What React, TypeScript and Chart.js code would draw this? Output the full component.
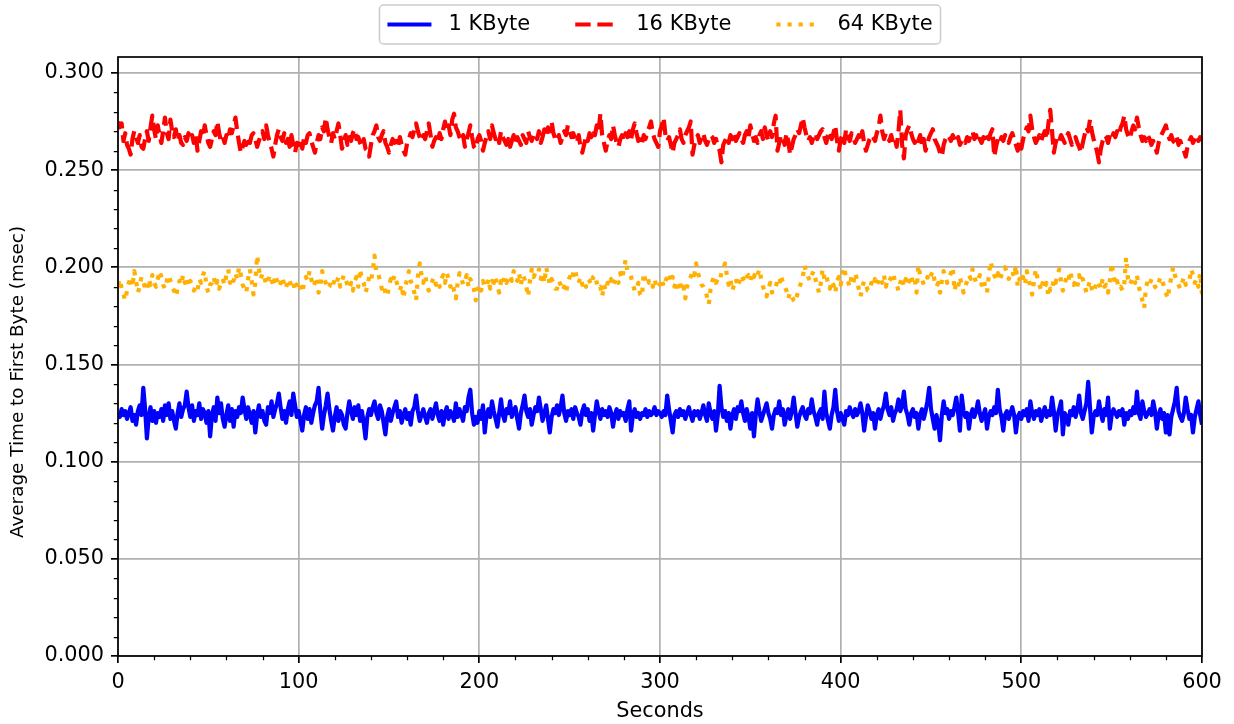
import { useEffect, useRef } from 'react';
import { Chart, registerables } from 'chart.js';

Chart.register(...registerables);

// Seconds since start of the run (one sample per second)
const SECONDS: number[] = Array.from({ length: 601 }, (_, i) => i);

// Average time to first byte (msec) for 1 KByte objects
const KB1: number[] = [
  0.125,0.123,0.127,0.124,0.126,0.122,0.125,0.128,0.121,0.124,
  0.119,0.126,0.129,0.124,0.138,0.127,0.112,0.123,0.128,0.121,
  0.126,0.120,0.125,0.123,0.127,0.121,0.129,0.124,0.130,0.122,
  0.126,0.121,0.117,0.125,0.130,0.123,0.127,0.129,0.136,0.128,
  0.123,0.129,0.121,0.126,0.124,0.130,0.122,0.127,0.125,0.120,
  0.126,0.113,0.124,0.128,0.121,0.133,0.125,0.130,0.122,0.118,
  0.124,0.129,0.121,0.127,0.118,0.126,0.123,0.128,0.125,0.133,
  0.127,0.122,0.128,0.124,0.120,0.126,0.115,0.124,0.129,0.123,
  0.126,0.121,0.119,0.128,0.125,0.131,0.123,0.127,0.130,0.135,
  0.128,0.122,0.126,0.120,0.127,0.131,0.124,0.135,0.129,0.123,
  0.126,0.121,0.116,0.124,0.128,0.122,0.127,0.120,0.125,0.129,
  0.131,0.138,0.126,0.117,0.124,0.129,0.135,0.127,0.121,0.116,
  0.123,0.128,0.121,0.126,0.124,0.119,0.117,0.125,0.131,0.126,
  0.122,0.128,0.124,0.129,0.121,0.126,0.120,0.112,0.123,0.127,
  0.124,0.128,0.131,0.125,0.122,0.129,0.126,0.120,0.114,0.123,
  0.127,0.121,0.125,0.128,0.131,0.123,0.126,0.120,0.124,0.127,
  0.122,0.125,0.119,0.126,0.128,0.134,0.126,0.121,0.124,0.127,
  0.123,0.120,0.125,0.127,0.122,0.126,0.130,0.124,0.121,0.126,
  0.119,0.125,0.128,0.122,0.126,0.124,0.121,0.130,0.123,0.127,
  0.124,0.121,0.128,0.126,0.133,0.137,0.125,0.119,0.123,0.120,
  0.126,0.122,0.129,0.115,0.124,0.127,0.123,0.131,0.126,0.122,
  0.118,0.125,0.132,0.124,0.121,0.127,0.125,0.131,0.123,0.126,
  0.128,0.122,0.117,0.125,0.129,0.134,0.126,0.123,0.127,0.119,
  0.124,0.128,0.126,0.133,0.127,0.121,0.125,0.129,0.122,0.115,
  0.123,0.127,0.125,0.129,0.124,0.128,0.134,0.125,0.121,0.126,
  0.124,0.127,0.122,0.128,0.125,0.123,0.119,0.126,0.129,0.124,
  0.127,0.121,0.125,0.116,0.124,0.131,0.126,0.122,0.127,0.124,
  0.126,0.123,0.128,0.125,0.118,0.124,0.127,0.122,0.126,0.124,
  0.125,0.121,0.127,0.131,0.116,0.124,0.127,0.123,0.125,0.122,
  0.125,0.124,0.127,0.123,0.126,0.124,0.125,0.128,0.124,0.126,
  0.125,0.123,0.126,0.124,0.134,0.127,0.121,0.115,0.124,0.126,
  0.123,0.127,0.124,0.126,0.122,0.125,0.128,0.124,0.121,0.126,
  0.124,0.126,0.122,0.125,0.129,0.124,0.121,0.130,0.125,0.122,
  0.126,0.116,0.124,0.139,0.128,0.123,0.126,0.121,0.125,0.117,
  0.124,0.127,0.122,0.128,0.126,0.131,0.125,0.121,0.127,0.123,
  0.117,0.125,0.113,0.124,0.132,0.126,0.121,0.124,0.127,0.130,
  0.125,0.122,0.117,0.124,0.127,0.125,0.131,0.124,0.127,0.119,
  0.124,0.127,0.122,0.126,0.133,0.125,0.118,0.123,0.126,0.128,
  0.124,0.122,0.127,0.125,0.132,0.126,0.123,0.119,0.125,0.127,
  0.122,0.136,0.125,0.121,0.117,0.124,0.128,0.137,0.126,0.121,
  0.125,0.122,0.119,0.126,0.124,0.128,0.125,0.123,0.127,0.124,
  0.126,0.130,0.125,0.116,0.123,0.129,0.126,0.122,0.125,0.117,
  0.124,0.127,0.122,0.126,0.129,0.135,0.127,0.124,0.128,0.121,
  0.125,0.127,0.132,0.126,0.129,0.136,0.127,0.124,0.119,0.125,
  0.127,0.123,0.125,0.117,0.124,0.127,0.122,0.126,0.131,0.138,
  0.127,0.122,0.117,0.124,0.120,0.111,0.124,0.131,0.125,0.127,
  0.122,0.126,0.124,0.128,0.133,0.125,0.116,0.134,0.126,0.123,
  0.125,0.117,0.124,0.127,0.123,0.126,0.131,0.125,0.121,0.124,
  0.127,0.117,0.123,0.126,0.124,0.128,0.125,0.137,0.127,0.123,
  0.116,0.124,0.126,0.122,0.125,0.128,0.124,0.115,0.123,0.125,
  0.122,0.126,0.124,0.127,0.121,0.131,0.125,0.122,0.126,0.124,
  0.127,0.121,0.125,0.128,0.123,0.126,0.124,0.133,0.126,0.116,
  0.124,0.127,0.131,0.114,0.125,0.123,0.119,0.126,0.124,0.128,
  0.123,0.127,0.134,0.125,0.122,0.126,0.130,0.141,0.128,0.115,
  0.123,0.126,0.124,0.131,0.125,0.121,0.127,0.124,0.133,0.117,
  0.124,0.127,0.125,0.123,0.126,0.124,0.127,0.119,0.125,0.122,
  0.126,0.124,0.128,0.125,0.136,0.125,0.122,0.131,0.126,0.123,
  0.125,0.127,0.124,0.131,0.126,0.117,0.124,0.127,0.122,0.125,
  0.115,0.124,0.114,0.123,0.127,0.131,0.138,0.126,0.123,0.121,
  0.125,0.133,0.127,0.122,0.124,0.115,0.123,0.127,0.131,0.124,
  0.119,
];

// Average time to first byte (msec) for 16 KByte objects
const KB16: number[] = [
  0.275,0.272,0.274,0.265,0.269,0.263,0.261,0.258,0.266,0.270,
  0.267,0.264,0.268,0.262,0.261,0.266,0.270,0.265,0.272,0.278,
  0.271,0.266,0.273,0.268,0.264,0.270,0.277,0.269,0.266,0.276,
  0.270,0.267,0.271,0.265,0.268,0.264,0.263,0.267,0.265,0.269,
  0.266,0.268,0.264,0.269,0.260,0.265,0.270,0.267,0.273,0.268,
  0.264,0.262,0.266,0.270,0.268,0.275,0.269,0.265,0.267,0.264,
  0.268,0.266,0.271,0.269,0.273,0.277,0.270,0.264,0.259,0.262,
  0.265,0.263,0.267,0.264,0.268,0.269,0.266,0.262,0.265,0.268,
  0.270,0.266,0.273,0.268,0.264,0.261,0.257,0.263,0.268,0.271,
  0.267,0.265,0.269,0.264,0.266,0.262,0.268,0.263,0.259,0.264,
  0.263,0.266,0.261,0.267,0.264,0.268,0.269,0.265,0.262,0.259,
  0.264,0.268,0.266,0.272,0.270,0.277,0.271,0.267,0.264,0.269,
  0.266,0.270,0.274,0.268,0.261,0.265,0.268,0.263,0.267,0.265,
  0.269,0.271,0.266,0.267,0.264,0.262,0.266,0.261,0.260,0.257,
  0.263,0.268,0.270,0.273,0.267,0.265,0.268,0.270,0.264,0.262,
  0.259,0.263,0.266,0.264,0.265,0.262,0.267,0.263,0.260,0.258,
  0.264,0.266,0.269,0.267,0.271,0.274,0.270,0.267,0.265,0.268,
  0.266,0.270,0.274,0.268,0.262,0.265,0.267,0.264,0.269,0.266,
  0.271,0.275,0.270,0.273,0.268,0.276,0.279,0.272,0.270,0.267,
  0.265,0.268,0.262,0.266,0.269,0.273,0.267,0.262,0.261,0.266,
  0.268,0.265,0.260,0.264,0.267,0.270,0.266,0.273,0.269,0.266,
  0.268,0.264,0.270,0.267,0.265,0.263,0.266,0.262,0.265,0.268,
  0.264,0.267,0.265,0.263,0.268,0.266,0.264,0.270,0.267,0.265,
  0.268,0.269,0.266,0.270,0.264,0.267,0.271,0.268,0.272,0.270,
  0.275,0.269,0.266,0.265,0.268,0.264,0.267,0.270,0.268,0.273,
  0.270,0.267,0.269,0.266,0.264,0.268,0.262,0.259,0.263,0.267,
  0.265,0.269,0.267,0.271,0.268,0.273,0.270,0.279,0.268,0.264,
  0.260,0.265,0.268,0.266,0.273,0.268,0.264,0.262,0.266,0.268,
  0.265,0.269,0.267,0.270,0.266,0.271,0.274,0.269,0.265,0.267,
  0.264,0.268,0.266,0.270,0.272,0.275,0.269,0.266,0.264,0.262,
  0.270,0.273,0.277,0.268,0.265,0.267,0.263,0.259,0.264,0.266,
  0.268,0.271,0.266,0.264,0.268,0.270,0.272,0.275,0.258,0.263,
  0.266,0.268,0.264,0.267,0.269,0.265,0.263,0.266,0.268,0.267,
  0.264,0.266,0.262,0.260,0.254,0.263,0.265,0.267,0.264,0.268,
  0.266,0.269,0.265,0.267,0.269,0.266,0.264,0.268,0.270,0.267,
  0.273,0.269,0.265,0.267,0.264,0.268,0.270,0.266,0.272,0.268,
  0.265,0.270,0.267,0.274,0.278,0.260,0.264,0.268,0.266,0.263,
  0.269,0.265,0.258,0.262,0.266,0.268,0.271,0.269,0.273,0.277,
  0.272,0.268,0.265,0.267,0.264,0.267,0.269,0.266,0.268,0.270,
  0.271,0.267,0.264,0.268,0.270,0.266,0.269,0.273,0.265,0.260,
  0.266,0.268,0.264,0.271,0.267,0.265,0.269,0.267,0.264,0.266,
  0.268,0.265,0.270,0.264,0.260,0.263,0.266,0.268,0.267,0.265,
  0.269,0.272,0.278,0.270,0.266,0.269,0.267,0.265,0.268,0.264,
  0.266,0.262,0.270,0.281,0.263,0.256,0.268,0.271,0.273,0.269,
  0.266,0.264,0.267,0.265,0.268,0.263,0.266,0.260,0.264,0.267,
  0.269,0.271,0.266,0.264,0.262,0.259,0.257,0.263,0.266,0.268,
  0.267,0.265,0.268,0.266,0.264,0.267,0.263,0.265,0.266,0.264,
  0.267,0.265,0.268,0.270,0.266,0.268,0.264,0.266,0.264,0.267,
  0.265,0.268,0.266,0.269,0.271,0.257,0.262,0.266,0.264,0.267,
  0.265,0.268,0.266,0.264,0.267,0.269,0.266,0.263,0.260,0.265,
  0.261,0.266,0.269,0.272,0.270,0.278,0.271,0.267,0.264,0.266,
  0.268,0.265,0.268,0.270,0.266,0.274,0.281,0.270,0.259,0.264,
  0.267,0.265,0.268,0.266,0.264,0.267,0.269,0.266,0.263,0.265,
  0.267,0.264,0.262,0.259,0.264,0.268,0.272,0.270,0.276,0.270,
  0.266,0.263,0.259,0.254,0.261,0.265,0.268,0.267,0.264,0.268,
  0.266,0.269,0.267,0.270,0.268,0.272,0.274,0.278,0.271,0.268,
  0.266,0.270,0.273,0.271,0.277,0.272,0.268,0.265,0.267,0.265,
  0.268,0.266,0.263,0.265,0.262,0.259,0.264,0.267,0.269,0.271,
  0.273,0.269,0.266,0.268,0.265,0.264,0.267,0.263,0.265,0.262,
  0.260,0.257,0.262,0.265,0.267,0.264,0.266,0.268,0.265,0.267,
  0.265,
];

// Average time to first byte (msec) for 64 KByte objects
const KB64: number[] = [
  0.191,0.194,0.189,0.186,0.183,0.188,0.192,0.195,0.190,0.198,
  0.193,0.187,0.190,0.195,0.193,0.189,0.188,0.194,0.191,0.196,
  0.192,0.190,0.194,0.198,0.195,0.191,0.189,0.193,0.196,0.193,
  0.190,0.188,0.185,0.189,0.193,0.191,0.196,0.192,0.195,0.190,
  0.193,0.191,0.188,0.190,0.188,0.194,0.192,0.196,0.198,0.190,
  0.187,0.191,0.192,0.195,0.190,0.193,0.189,0.192,0.194,0.191,
  0.196,0.199,0.192,0.195,0.193,0.197,0.194,0.200,0.196,0.191,
  0.189,0.187,0.194,0.199,0.193,0.186,0.192,0.206,0.199,0.194,
  0.197,0.195,0.191,0.193,0.196,0.194,0.190,0.196,0.193,0.190,
  0.192,0.195,0.191,0.189,0.194,0.193,0.190,0.192,0.188,0.191,
  0.193,0.190,0.187,0.192,0.195,0.193,0.198,0.194,0.190,0.192,
  0.195,0.187,0.190,0.198,0.194,0.192,0.189,0.190,0.193,0.191,
  0.194,0.192,0.195,0.190,0.193,0.196,0.194,0.191,0.189,0.192,
  0.188,0.193,0.195,0.190,0.199,0.194,0.192,0.187,0.190,0.195,
  0.193,0.198,0.206,0.197,0.197,0.193,0.189,0.191,0.187,0.185,
  0.190,0.194,0.192,0.196,0.193,0.190,0.188,0.191,0.184,0.190,
  0.194,0.198,0.193,0.191,0.187,0.183,0.195,0.202,0.196,0.192,
  0.196,0.191,0.188,0.190,0.193,0.195,0.191,0.193,0.190,0.194,
  0.196,0.192,0.197,0.194,0.190,0.192,0.188,0.184,0.192,0.197,
  0.195,0.191,0.193,0.196,0.190,0.194,0.192,0.189,0.183,0.188,
  0.191,0.188,0.193,0.190,0.190,0.194,0.189,0.193,0.192,0.195,
  0.190,0.187,0.193,0.191,0.195,0.192,0.194,0.196,0.193,0.198,
  0.195,0.193,0.197,0.191,0.196,0.194,0.190,0.185,0.193,0.199,
  0.195,0.197,0.196,0.199,0.194,0.197,0.192,0.200,0.196,0.191,
  0.194,0.192,0.189,0.189,0.193,0.191,0.188,0.190,0.187,0.192,
  0.195,0.193,0.197,0.199,0.194,0.192,0.195,0.191,0.193,0.190,
  0.194,0.193,0.191,0.195,0.196,0.192,0.189,0.190,0.185,0.191,
  0.188,0.192,0.190,0.194,0.191,0.193,0.195,0.192,0.197,0.194,
  0.199,0.204,0.198,0.197,0.195,0.191,0.188,0.188,0.192,0.186,
  0.185,0.197,0.193,0.195,0.192,0.193,0.190,0.194,0.190,0.192,
  0.191,0.194,0.190,0.193,0.195,0.197,0.192,0.195,0.190,0.193,
  0.189,0.192,0.188,0.190,0.184,0.190,0.193,0.195,0.198,0.196,
  0.202,0.197,0.194,0.191,0.190,0.188,0.185,0.181,0.189,0.193,
  0.195,0.192,0.194,0.193,0.197,0.199,0.202,0.196,0.191,0.194,
  0.188,0.191,0.194,0.190,0.193,0.196,0.194,0.192,0.195,0.196,
  0.193,0.197,0.195,0.198,0.196,0.199,0.194,0.190,0.188,0.185,
  0.189,0.192,0.187,0.190,0.190,0.193,0.191,0.196,0.192,0.190,
  0.188,0.184,0.187,0.185,0.183,0.182,0.186,0.189,0.192,0.195,
  0.201,0.197,0.195,0.193,0.196,0.198,0.194,0.191,0.187,0.192,
  0.199,0.194,0.196,0.192,0.189,0.193,0.191,0.187,0.193,0.195,
  0.191,0.196,0.200,0.194,0.193,0.190,0.195,0.192,0.197,0.194,
  0.189,0.185,0.190,0.193,0.191,0.188,0.188,0.192,0.190,0.194,
  0.191,0.193,0.195,0.192,0.196,0.190,0.194,0.193,0.195,0.197,
  0.193,0.191,0.188,0.192,0.195,0.190,0.194,0.191,0.193,0.196,
  0.192,0.194,0.187,0.201,0.196,0.194,0.191,0.192,0.195,0.193,
  0.196,0.198,0.193,0.190,0.192,0.187,0.193,0.198,0.195,0.192,
  0.194,0.197,0.200,0.188,0.192,0.190,0.195,0.191,0.187,0.190,
  0.193,0.196,0.194,0.199,0.195,0.192,0.193,0.196,0.191,0.194,
  0.190,0.187,0.196,0.203,0.199,0.196,0.194,0.197,0.193,0.196,
  0.198,0.200,0.197,0.194,0.196,0.198,0.195,0.201,0.190,0.194,
  0.192,0.195,0.191,0.198,0.194,0.190,0.186,0.193,0.199,0.194,
  0.191,0.188,0.193,0.190,0.192,0.185,0.189,0.188,0.194,0.192,
  0.196,0.199,0.193,0.188,0.191,0.195,0.193,0.198,0.194,0.191,
  0.193,0.190,0.196,0.192,0.194,0.191,0.187,0.190,0.193,0.189,
  0.187,0.190,0.193,0.192,0.189,0.194,0.190,0.191,0.187,0.193,
  0.202,0.196,0.191,0.193,0.189,0.190,0.188,0.192,0.205,0.194,
  0.191,0.193,0.195,0.192,0.196,0.190,0.187,0.183,0.179,0.190,
  0.193,0.191,0.194,0.192,0.190,0.189,0.192,0.195,0.193,0.190,
  0.187,0.184,0.190,0.195,0.200,0.196,0.193,0.191,0.189,0.192,
  0.195,0.191,0.193,0.193,0.199,0.196,0.192,0.194,0.190,0.197,
  0.186,
];

const SERIES_LABELS = ['1 KByte', '16 KByte', '64 KByte'];
const SERIES_COLORS = ['#0000ff', '#ff0000', '#ffb000'];

const X_TICKS = [0, 100, 200, 300, 400, 500, 600];
const Y_TICKS = [0, 0.05, 0.1, 0.15, 0.2, 0.25, 0.3];
const X_MINOR_STEP = 20;
const Y_MINOR_STEP = 0.01;

const X_TITLE = 'Seconds';
const Y_TITLE = 'Average Time to First Byte (msec)';

const FONT = '"DejaVu Sans", "Liberation Sans", sans-serif';
const LW = 4.2;

// Minor ticks, the black frame, the y-axis title and a boxed legend above the plot
const framePlugin = {
  id: 'frameAndLegend',
  afterDraw(chart: any) {
    const { ctx, chartArea: a } = chart;
    const xs = chart.scales.x;
    const ys = chart.scales.y;
    ctx.save();

    // minor ticks
    ctx.strokeStyle = '#000';
    ctx.lineWidth = 1.25;
    ctx.beginPath();
    for (let v = 0; v <= 600 + 1e-9; v += X_MINOR_STEP) {
      if (X_TICKS.some((t) => Math.abs(t - v) < 1e-6)) continue;
      const px = Math.round(xs.getPixelForValue(v)) + 0.5;
      ctx.moveTo(px, a.bottom);
      ctx.lineTo(px, a.bottom + 4.2);
    }
    for (let i = 0; i <= 30; i++) {
      const v = i * Y_MINOR_STEP;
      if (Y_TICKS.some((t) => Math.abs(t - v) < 1e-6)) continue;
      const py = Math.round(ys.getPixelForValue(v)) + 0.5;
      ctx.moveTo(a.left, py);
      ctx.lineTo(a.left - 4.2, py);
    }
    ctx.stroke();

    // frame
    ctx.lineWidth = 1.7;
    ctx.strokeStyle = '#000';
    ctx.strokeRect(a.left, a.top, a.right - a.left, a.bottom - a.top);

    // y-axis title
    ctx.save();
    ctx.translate(18.5, 382);
    ctx.rotate(-Math.PI / 2);
    ctx.font = `18.4px ${FONT}`;
    ctx.fillStyle = '#000';
    ctx.textAlign = 'center';
    ctx.textBaseline = 'middle';
    ctx.fillText(Y_TITLE, 0, 0);
    ctx.restore();

    // legend
    const fs = 21;
    ctx.font = `${fs}px ${FONT}`;
    const handle = 44;
    const textPad = 17;
    const colSpace = 45;
    const pad = 8;
    const items = chart.data.datasets.map((ds: any) => ({ ds, w: ctx.measureText(ds.label).width }));
    const total =
      pad * 2 +
      items.reduce((s: number, it: any) => s + handle + textPad + it.w, 0) +
      colSpace * (items.length - 1);
    const cx = (a.left + a.right) / 2;
    const boxL = cx - total / 2;
    const boxT = 5;
    const boxH = 39;
    ctx.beginPath();
    ctx.roundRect(boxL, boxT, total, boxH, 4);
    ctx.fillStyle = 'rgba(255,255,255,0.8)';
    ctx.fill();
    ctx.lineWidth = 1.5;
    ctx.strokeStyle = '#cccccc';
    ctx.stroke();

    let x = boxL + pad;
    const y = boxT + boxH / 2;
    for (const it of items) {
      const ds = it.ds;
      ctx.beginPath();
      ctx.setLineDash(ds.borderDash || []);
      ctx.lineCap = 'butt';
      ctx.lineWidth = ds.borderWidth;
      ctx.strokeStyle = ds.borderColor;
      ctx.moveTo(x, y);
      ctx.lineTo(x + handle, y);
      ctx.stroke();
      ctx.setLineDash([]);
      ctx.fillStyle = '#000';
      ctx.textBaseline = 'middle';
      ctx.textAlign = 'left';
      ctx.fillText(ds.label, x + handle + textPad, y);
      x += handle + textPad + it.w + colSpace;
    }
    ctx.restore();
  },
};

function toPoints(values: number[]) {
  return values.map((v, i) => ({ x: SECONDS[i], y: v }));
}

export default function App() {
  const canvasRef = useRef<HTMLCanvasElement | null>(null);

  useEffect(() => {
    const canvas = canvasRef.current;
    if (!canvas) return;
    const tickFont = { family: FONT, size: 20.8 };

    const chart = new Chart(canvas, {
      type: 'line',
      data: {
        datasets: [
          {
            label: SERIES_LABELS[0],
            data: toPoints(KB1),
            borderColor: SERIES_COLORS[0],
            borderWidth: LW,
            borderJoinStyle: 'round',
            pointRadius: 0,
            fill: false,
            tension: 0,
          },
          {
            label: SERIES_LABELS[1],
            data: toPoints(KB16),
            borderColor: SERIES_COLORS[1],
            borderWidth: LW,
            borderDash: [15.4, 6.7],
            borderJoinStyle: 'round',
            pointRadius: 0,
            fill: false,
            tension: 0,
          },
          {
            label: SERIES_LABELS[2],
            data: toPoints(KB64),
            borderColor: SERIES_COLORS[2],
            borderWidth: LW,
            borderDash: [4.2, 6.9],
            borderJoinStyle: 'round',
            pointRadius: 0,
            fill: false,
            tension: 0,
          },
        ],
      },
      options: {
        responsive: false,
        animation: false,
        events: [],
        layout: { padding: { top: 57, right: 32, left: 0, bottom: 0 } },
        plugins: {
          legend: { display: false },
          tooltip: { enabled: false },
        },
        scales: {
          x: {
            type: 'linear',
            min: 0,
            max: 600,
            afterBuildTicks: (axis: any) => {
              axis.ticks = X_TICKS.map((v) => ({ value: v }));
            },
            afterFit: (axis: any) => {
              axis.height = 68;
            },
            ticks: {
              color: '#000',
              font: tickFont,
              padding: 7,
              maxRotation: 0,
              autoSkip: false,
              callback: (v: any) => String(v),
            },
            grid: {
              color: '#b0b0b0',
              lineWidth: 1.7,
              drawTicks: true,
              tickLength: 7,
              tickColor: '#000',
              tickWidth: 1.7,
            },
            border: { display: false },
            title: {
              display: true,
              text: X_TITLE,
              color: '#000',
              font: { family: FONT, size: 20.8 },
              padding: { top: 0, bottom: 0 },
            },
          },
          y: {
            type: 'linear',
            min: 0,
            max: 0.3082,
            afterBuildTicks: (axis: any) => {
              axis.ticks = Y_TICKS.map((v) => ({ value: v }));
            },
            afterFit: (axis: any) => {
              axis.width = 118;
            },
            ticks: {
              color: '#000',
              font: tickFont,
              padding: 7,
              autoSkip: false,
              callback: (v: any) => Number(v).toFixed(3),
            },
            grid: {
              color: '#b0b0b0',
              lineWidth: 1.7,
              drawTicks: true,
              tickLength: 7,
              tickColor: '#000',
              tickWidth: 1.7,
            },
            border: { display: false },
            title: { display: false },
          },
        },
      },
      plugins: [framePlugin],
    });

    return () => chart.destroy();
  }, []);

  return (
    <div style={{ position: 'absolute', left: 0, top: 0, width: 1234, height: 724, background: '#fff' }}>
      <canvas ref={canvasRef} width={1234} height={724} />
    </div>
  );
}
